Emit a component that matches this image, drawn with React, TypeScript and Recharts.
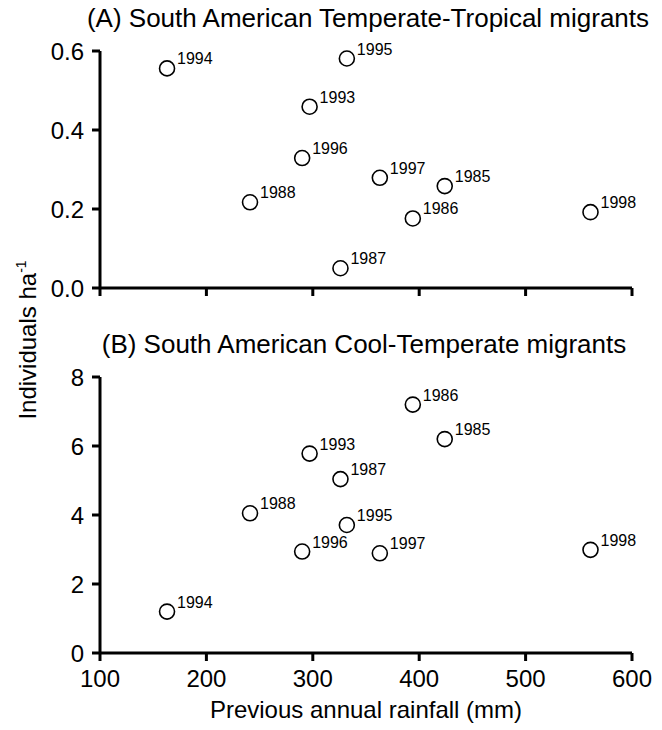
import { ScatterChart, Scatter, XAxis, YAxis } from 'recharts';

const years = [1985, 1986, 1987, 1988, 1993, 1994, 1995, 1996, 1997, 1998];
const rainfall = [424, 394, 326, 241, 297, 163, 332, 290, 363, 561];
const temperateTropical = [0.258, 0.176, 0.05, 0.217, 0.459, 0.556, 0.581, 0.329, 0.279, 0.192];
const coolTemperate = [6.2, 7.2, 5.04, 4.05, 5.78, 1.2, 3.71, 2.94, 2.89, 2.99];

const xTicks = [100, 200, 300, 400, 500, 600];
const yTicksA = [0, 0.2, 0.4, 0.6];
const yTicksB = [0, 2, 4, 6, 8];

const FONT = '"Liberation Sans", Arial, Helvetica, sans-serif';

const dataA = years.map((year, i) => ({ year, x: rainfall[i], y: temperateTropical[i] }));
const dataB = years.map((year, i) => ({ year, x: rainfall[i], y: coolTemperate[i] }));

const axisStyle = { stroke: '#000', strokeWidth: 3 };
const tickStyle = { fill: '#000', fontSize: 24, fontFamily: FONT };

// open circle with the year written up and to the right
const YearPoint = (props: any) => {
    const { cx, cy, payload } = props;
    return (
        <g>
            <circle cx={cx} cy={cy} r={7.5} fill="#fff" stroke="#000" strokeWidth={1.6} />
            <text x={cx + 10} y={cy - 4} fontSize={16} fill="#000" fontFamily={FONT}>
                {payload.year}
            </text>
        </g>
    );
};

export default function App() {
    return (
        <div style={{ position: 'absolute', left: 0, top: 0, width: 662, height: 730, background: '#fff' }}>
            {/* Panel A */}
            <div style={{ position: 'absolute', left: 0, top: 0 }}>
                <ScatterChart width={662} height={312} margin={{ top: 51, right: 30, bottom: 0, left: 0 }}>
                    <XAxis
                        type="number"
                        dataKey="x"
                        domain={[100, 600]}
                        ticks={xTicks}
                        interval={0}
                        height={24}
                        axisLine={axisStyle}
                        tickLine={axisStyle}
                        tickSize={8}
                        tickFormatter={() => ''}
                    />
                    <YAxis
                        type="number"
                        dataKey="y"
                        domain={[0, 0.6]}
                        ticks={yTicksA}
                        interval={0}
                        width={100}
                        axisLine={axisStyle}
                        tickLine={axisStyle}
                        tickSize={8}
                        tickMargin={8}
                        tick={tickStyle}
                        tickFormatter={(v: number) => v.toFixed(1)}
                    />
                    <Scatter data={dataA} shape={YearPoint} isAnimationActive={false} />
                </ScatterChart>
            </div>

            {/* Panel B */}
            <div style={{ position: 'absolute', left: 0, top: 300 }}>
                <ScatterChart width={662} height={430} margin={{ top: 77, right: 30, bottom: 0, left: 0 }}>
                    <XAxis
                        type="number"
                        dataKey="x"
                        domain={[100, 600]}
                        ticks={xTicks}
                        interval={0}
                        height={77}
                        axisLine={axisStyle}
                        tickLine={axisStyle}
                        tickSize={8}
                        tickMargin={9}
                        tick={tickStyle}
                        label={{
                            value: 'Previous annual rainfall (mm)',
                            position: 'insideBottom',
                            offset: 12,
                            fill: '#000',
                            fontSize: 24,
                            fontFamily: FONT,
                        }}
                    />
                    <YAxis
                        type="number"
                        dataKey="y"
                        domain={[0, 8]}
                        ticks={yTicksB}
                        interval={0}
                        width={100}
                        axisLine={axisStyle}
                        tickLine={axisStyle}
                        tickSize={8}
                        tickMargin={8}
                        tick={tickStyle}
                    />
                    <Scatter data={dataB} shape={YearPoint} isAnimationActive={false} />
                </ScatterChart>
            </div>

            {/* Titles and shared y label */}
            <svg
                width={662}
                height={730}
                style={{ position: 'absolute', left: 0, top: 0, pointerEvents: 'none' }}
            >
                <text x={368} y={27} textAnchor="middle" fontSize={26} fontFamily={FONT} fill="#000">
                    (A) South American Temperate-Tropical migrants
                </text>
                <text x={364} y={353} textAnchor="middle" fontSize={26} fontFamily={FONT} fill="#000">
                    (B) South American Cool-Temperate migrants
                </text>
                <text
                    transform="translate(36,340) rotate(-90)"
                    textAnchor="middle"
                    fontSize={24}
                    fontFamily={FONT}
                    fill="#000"
                >
                    Individuals ha
                    <tspan fontSize={14} dy={-10}>-1</tspan>
                </text>
            </svg>
        </div>
    );
}
